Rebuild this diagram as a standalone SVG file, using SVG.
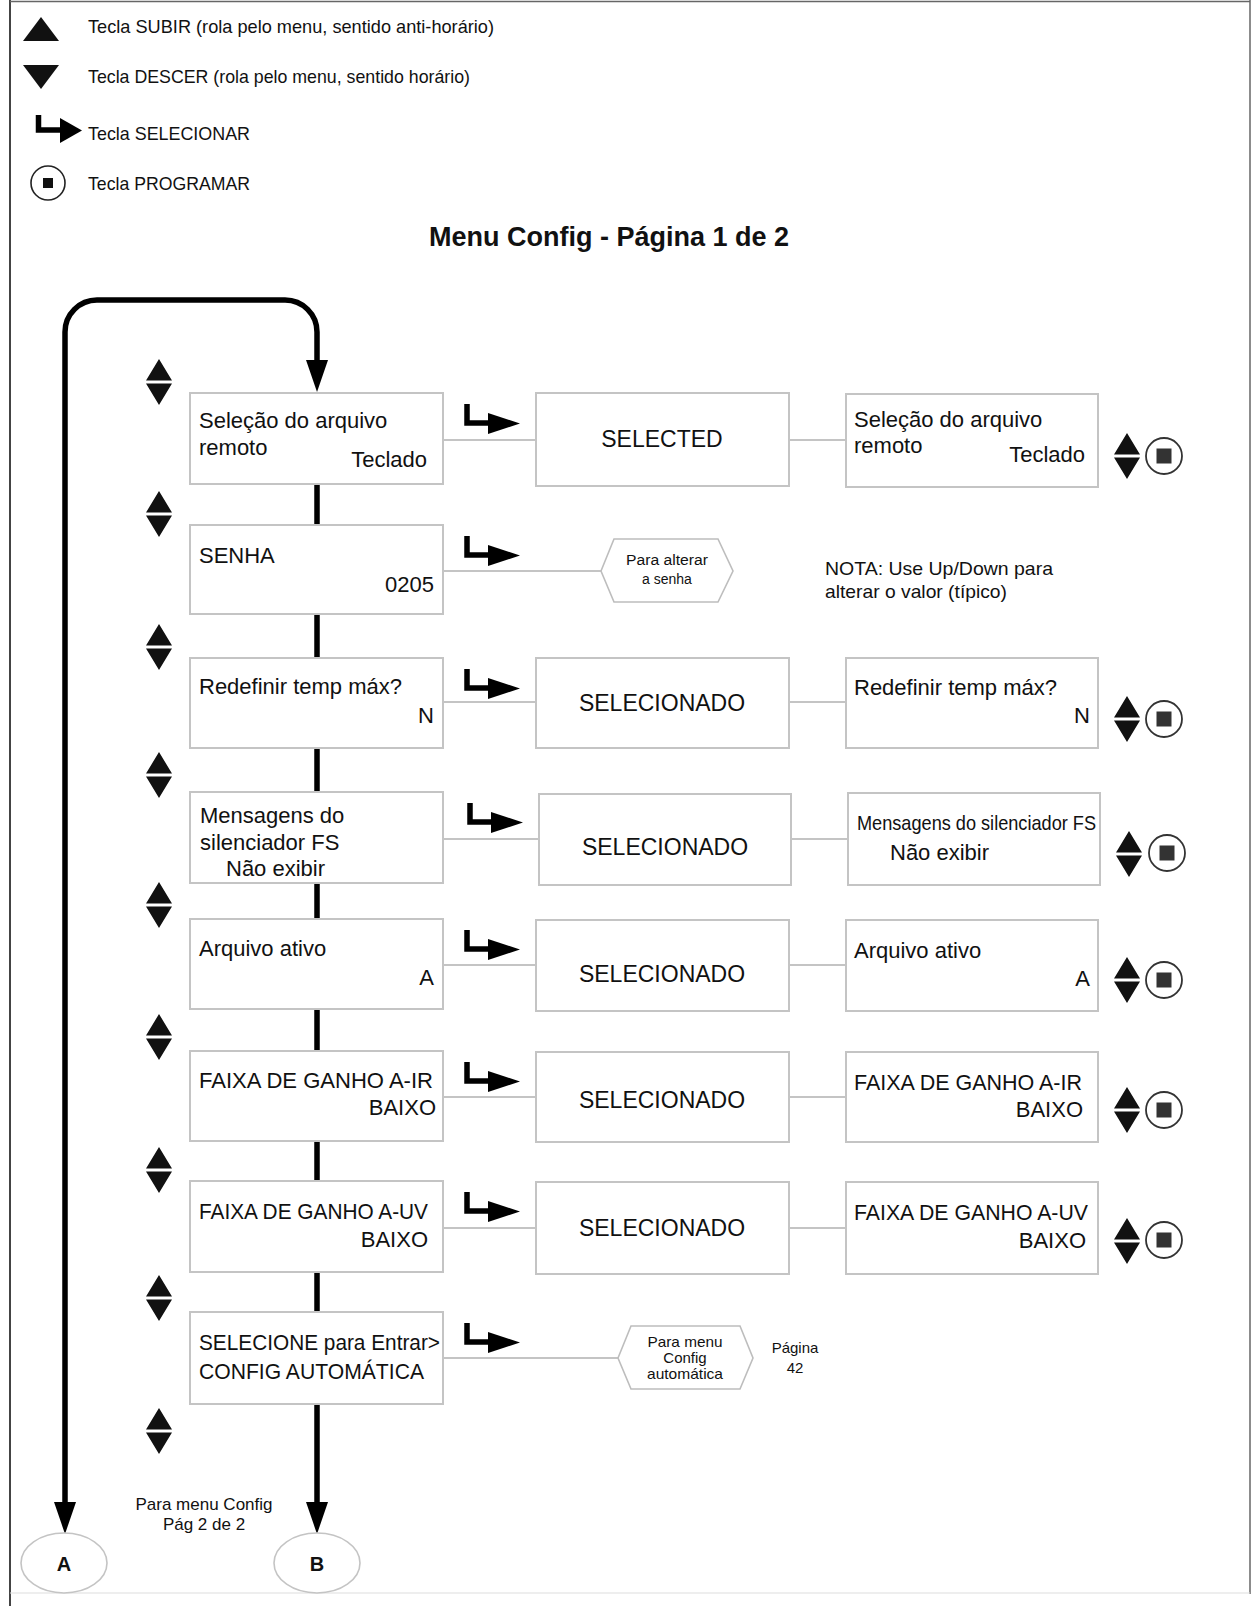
<svg xmlns="http://www.w3.org/2000/svg" width="1253" height="1606" viewBox="0 0 1253 1606">
<style>
text{font-family:"Liberation Sans",Arial,sans-serif;fill:#111}
.t{font-size:22px}
.m{font-size:23px;text-anchor:middle}
.e{text-anchor:end}
.lg{font-size:19px}
.sm{font-size:15px;text-anchor:middle}
.box{fill:#fff;stroke:#c4c4c4;stroke-width:2}
.hex{fill:#fff;stroke:#bdbdbd;stroke-width:1.6}
.thin{stroke:#c4c4c4;stroke-width:2;fill:none}
.thick{stroke:#000;stroke-width:5.5;fill:none}
.ah{fill:#000}
.ell{fill:#fff;stroke:#c4c4c4;stroke-width:1.6}
</style>
<defs>
<g id="ud"><path d="M0,-23 L13,-1.5 L-13,-1.5 Z M-13,1.5 L13,1.5 L0,23 Z" fill="#111"/></g>
<g id="sel"><path d="M0,11 V30 H23" fill="none" stroke="#000" stroke-width="5.5"/><path d="M21,20 L53,30.5 L21,41 Z" fill="#000"/></g>
<g id="prog"><circle r="18" fill="#fff" stroke="#333" stroke-width="1.8"/><rect x="-7.5" y="-7.5" width="15" height="15" fill="#333"/></g>
</defs>
<rect width="1253" height="1606" fill="#fff"/>
<g id="border" fill="none">
<line x1="10" y1="0" x2="10" y2="1606" stroke="#444" stroke-width="2"/>
<line x1="10" y1="1.5" x2="1250" y2="1.5" stroke="#666" stroke-width="1.5"/>
<line x1="1250" y1="0" x2="1250" y2="1594" stroke="#666" stroke-width="1.5"/>
<line x1="10" y1="1593" x2="1250" y2="1593" stroke="#ddd" stroke-width="1"/>
</g>
<g id="legend">
<path d="M41,17 L59,41 L23,41 Z" fill="#111"/>
<path d="M23,65 L59,65 L41,89 Z" fill="#111"/>
<path d="M38.5,115 V130 H62" fill="none" stroke="#000" stroke-width="5.5"/>
<path d="M60,118 L82,130.5 L60,143 Z" fill="#000"/>
<circle cx="48" cy="183" r="17" fill="#fff" stroke="#222" stroke-width="1.6"/>
<rect x="43" y="178" width="10" height="10" fill="#111"/>
<text class="lg" x="88" y="33" textLength="406" lengthAdjust="spacingAndGlyphs">Tecla SUBIR (rola pelo menu, sentido anti-horário)</text>
<text class="lg" x="88" y="83" textLength="382" lengthAdjust="spacingAndGlyphs">Tecla DESCER (rola pelo menu, sentido horário)</text>
<text class="lg" x="88" y="140" textLength="162" lengthAdjust="spacingAndGlyphs">Tecla SELECIONAR</text>
<text class="lg" x="88" y="190" textLength="162" lengthAdjust="spacingAndGlyphs">Tecla PROGRAMAR</text>
</g>
<text id="title" x="609" y="246" font-size="27" font-weight="bold" text-anchor="middle">Menu Config - Página 1 de 2</text>
<g id="connectors">
<path class="thick" d="M65,1505 V332 A32,32 0 0 1 97,300 H285 A32,32 0 0 1 317,332 V362"/>
<path class="ah" d="M306,360 L328,360 L317,392 Z"/>
<path class="ah" d="M54,1502 L76,1502 L65,1534 Z"/>
<path class="thick" d="M317,482 V527 M317,612 V660 M317,746 V794 M317,881 V921 M317,1007 V1053 M317,1139 V1183 M317,1270 V1314 M317,1402 V1505"/>
<path class="ah" d="M306,1502 L328,1502 L317,1534 Z"/>
<path class="thin" d="M443,440 H536 M789,440 H846 M443,571 H601 M443,702 H536 M789,702 H846 M443,839 H539 M791,839 H848 M443,965 H536 M789,965 H846 M443,1097 H536 M789,1097 H846 M443,1228 H536 M789,1228 H846 M443,1358 H618"/>
</g>
<g id="updown-icons">
<use href="#ud" x="159" y="382"/>
<use href="#ud" x="159" y="514"/>
<use href="#ud" x="159" y="647"/>
<use href="#ud" x="159" y="775"/>
<use href="#ud" x="159" y="905"/>
<use href="#ud" x="159" y="1037"/>
<use href="#ud" x="159" y="1170"/>
<use href="#ud" x="159" y="1298"/>
<use href="#ud" x="159" y="1431"/>
</g>
<g id="select-icons">
<use href="#sel" x="467" y="393"/>
<use href="#sel" x="467" y="525"/>
<use href="#sel" x="467" y="658"/>
<use href="#sel" x="470" y="792"/>
<use href="#sel" x="467" y="919"/>
<use href="#sel" x="467" y="1051"/>
<use href="#sel" x="467" y="1181"/>
<use href="#sel" x="467" y="1312"/>
</g>
<g id="n1">
<rect class="box" x="190" y="393" width="253" height="91"/>
<text class="t" x="199" y="428">Seleção do arquivo</text>
<text class="t" x="199" y="455">remoto</text>
<text class="t e" x="427" y="467">Teclado</text>
</g>
<g id="n1s"><rect class="box" x="536" y="393" width="253" height="93"/><text class="m" x="662" y="447">SELECTED</text></g>
<g id="n1r">
<rect class="box" x="846" y="394" width="252" height="93"/>
<text class="t" x="854" y="427">Seleção do arquivo</text>
<text class="t" x="854" y="453">remoto</text>
<text class="t e" x="1085" y="462">Teclado</text>
<use href="#ud" x="1127" y="456"/><use href="#prog" x="1164" y="456"/>
</g>
<g id="n2">
<rect class="box" x="190" y="525" width="253" height="89"/>
<text class="t" x="199" y="563">SENHA</text>
<text class="t e" x="434" y="592">0205</text>
</g>
<g id="n2h">
<polygon class="hex" points="601,571 614,539 718,539 733,571 718,602 614,602"/>
<text font-size="14" text-anchor="middle" x="667" y="565" textLength="82" lengthAdjust="spacingAndGlyphs">Para alterar</text>
<text font-size="14" text-anchor="middle" x="667" y="584">a senha</text>
</g>
<g id="nota">
<text font-size="19" x="825" y="575" textLength="228" lengthAdjust="spacingAndGlyphs">NOTA: Use Up/Down para</text>
<text font-size="19" x="825" y="598" textLength="182" lengthAdjust="spacingAndGlyphs">alterar o valor (típico)</text>
</g>
<g id="n3">
<rect class="box" x="190" y="658" width="253" height="90"/>
<text class="t" x="199" y="694">Redefinir temp máx?</text>
<text class="t e" x="434" y="723">N</text>
</g>
<g id="n3s"><rect class="box" x="536" y="658" width="253" height="90"/><text class="m" x="662" y="711">SELECIONADO</text></g>
<g id="n3r">
<rect class="box" x="846" y="658" width="252" height="90"/>
<text class="t" x="854" y="695">Redefinir temp máx?</text>
<text class="t e" x="1090" y="723">N</text>
<use href="#ud" x="1127" y="719"/><use href="#prog" x="1164" y="719"/>
</g>
<g id="n4">
<rect class="box" x="190" y="792" width="253" height="91"/>
<text class="t" x="200" y="823">Mensagens do</text>
<text class="t" x="200" y="850">silenciador FS</text>
<text class="t" x="226" y="876">Não exibir</text>
</g>
<g id="n4s"><rect class="box" x="539" y="794" width="252" height="91"/><text class="m" x="665" y="855">SELECIONADO</text></g>
<g id="n4r">
<rect class="box" x="848" y="793" width="252" height="92"/>
<text font-size="21" x="857" y="830" textLength="239" lengthAdjust="spacingAndGlyphs">Mensagens do silenciador FS</text>
<text class="t" x="890" y="860">Não exibir</text>
<use href="#ud" x="1129" y="854"/><use href="#prog" x="1167" y="853"/>
</g>
<g id="n5">
<rect class="box" x="190" y="919" width="253" height="90"/>
<text class="t" x="199" y="956">Arquivo ativo</text>
<text class="t e" x="434" y="985">A</text>
</g>
<g id="n5s"><rect class="box" x="536" y="920" width="253" height="91"/><text class="m" x="662" y="982">SELECIONADO</text></g>
<g id="n5r">
<rect class="box" x="846" y="920" width="252" height="91"/>
<text class="t" x="854" y="958">Arquivo ativo</text>
<text class="t e" x="1090" y="986">A</text>
<use href="#ud" x="1127" y="980"/><use href="#prog" x="1164" y="980"/>
</g>
<g id="n6">
<rect class="box" x="190" y="1051" width="253" height="90"/>
<text class="t" x="199" y="1088" textLength="234" lengthAdjust="spacingAndGlyphs">FAIXA DE GANHO A-IR</text>
<text class="t e" x="436" y="1115">BAIXO</text>
</g>
<g id="n6s"><rect class="box" x="536" y="1052" width="253" height="90"/><text class="m" x="662" y="1108">SELECIONADO</text></g>
<g id="n6r">
<rect class="box" x="846" y="1052" width="252" height="90"/>
<text class="t" x="854" y="1090" textLength="228" lengthAdjust="spacingAndGlyphs">FAIXA DE GANHO A-IR</text>
<text class="t e" x="1083" y="1117">BAIXO</text>
<use href="#ud" x="1127" y="1110"/><use href="#prog" x="1164" y="1110"/>
</g>
<g id="n7">
<rect class="box" x="190" y="1181" width="253" height="91"/>
<text class="t" x="199" y="1219" textLength="229" lengthAdjust="spacingAndGlyphs">FAIXA DE GANHO A-UV</text>
<text class="t e" x="428" y="1247">BAIXO</text>
</g>
<g id="n7s"><rect class="box" x="536" y="1182" width="253" height="92"/><text class="m" x="662" y="1236">SELECIONADO</text></g>
<g id="n7r">
<rect class="box" x="846" y="1182" width="252" height="92"/>
<text class="t" x="854" y="1220" textLength="234" lengthAdjust="spacingAndGlyphs">FAIXA DE GANHO A-UV</text>
<text class="t e" x="1086" y="1248">BAIXO</text>
<use href="#ud" x="1127" y="1241"/><use href="#prog" x="1164" y="1240"/>
</g>
<g id="n8">
<rect class="box" x="190" y="1312" width="253" height="92"/>
<text class="t" x="199" y="1350" textLength="241" lengthAdjust="spacingAndGlyphs">SELECIONE para Entrar&gt;</text>
<text class="t" x="199" y="1379" textLength="225" lengthAdjust="spacingAndGlyphs">CONFIG AUTOMÁTICA</text>
</g>
<g id="n8h">
<polygon class="hex" points="618,1358 631,1326 740,1326 753,1358 740,1389 631,1389"/>
<text class="sm" x="685" y="1347" textLength="75" lengthAdjust="spacingAndGlyphs">Para menu</text>
<text class="sm" x="685" y="1363">Config</text>
<text class="sm" x="685" y="1379" textLength="76" lengthAdjust="spacingAndGlyphs">automática</text>
</g>
<g id="pagina">
<text class="sm" x="795" y="1353">Página</text>
<text class="sm" x="795" y="1373">42</text>
</g>
<g id="pag2">
<text font-size="17" text-anchor="middle" x="204" y="1510">Para menu Config</text>
<text font-size="17" text-anchor="middle" x="204" y="1530">Pág 2 de 2</text>
</g>
<g id="nA"><ellipse class="ell" cx="64" cy="1563" rx="43" ry="30"/><text x="64" y="1571" font-size="20" font-weight="bold" text-anchor="middle">A</text></g>
<g id="nB"><ellipse class="ell" cx="317" cy="1563" rx="43" ry="30"/><text x="317" y="1571" font-size="20" font-weight="bold" text-anchor="middle">B</text></g>
</svg>
